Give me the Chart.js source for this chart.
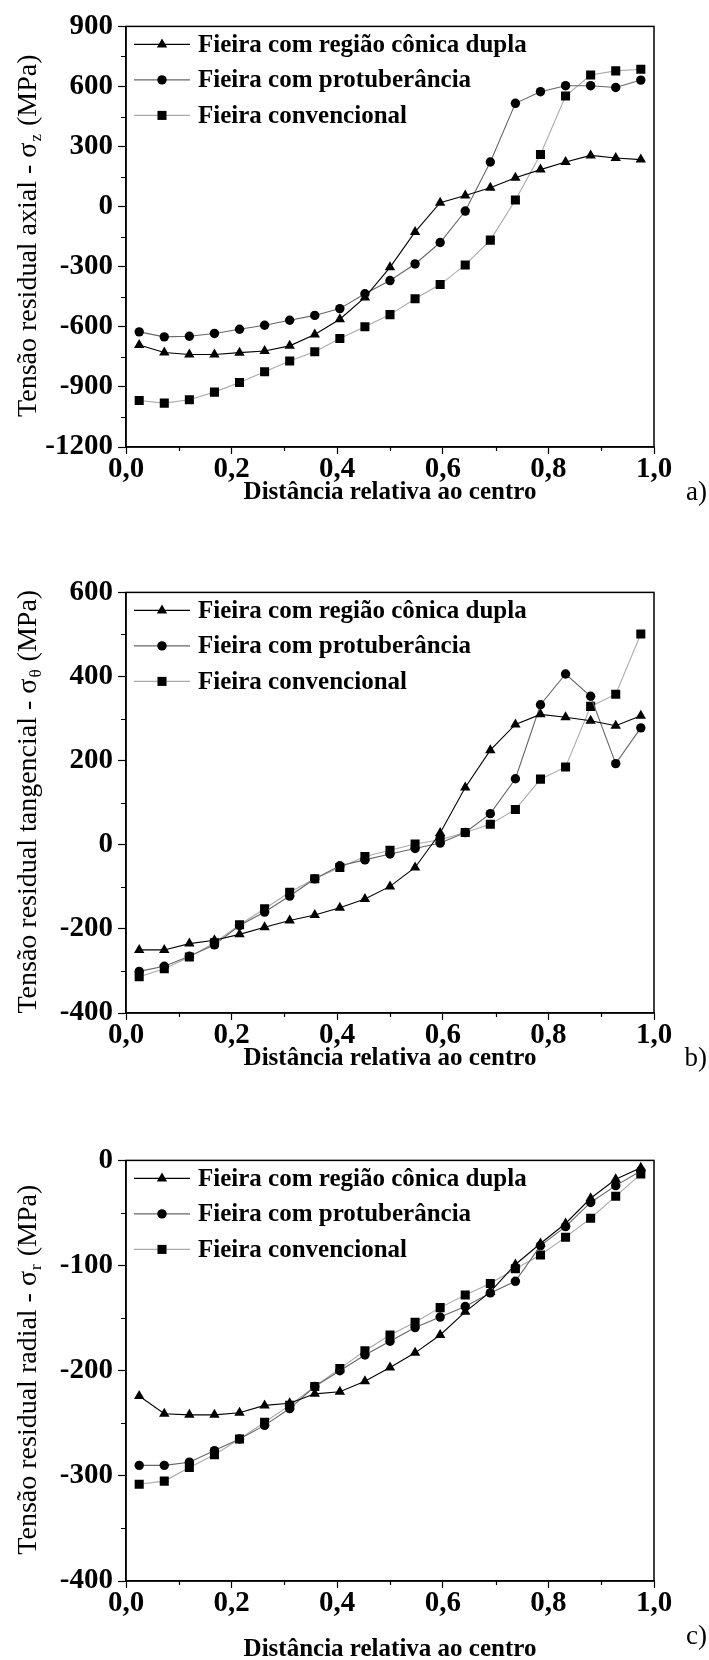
<!DOCTYPE html>
<html lang="pt">
<head>
<meta charset="utf-8" />
<title>Tensões residuais</title>
<script src="https://cdn.jsdelivr.net/npm/chart.js@4"></script>
<style>
  body { margin: 0; background: #fff; }
  .painel { position: absolute; left: 0; width: 709px; }
</style>
</head>
<body>
<div class="painel" style="top:4px"><canvas id="graficoA" width="709" height="536"></canvas></div>
<div class="painel" style="top:570px"><canvas id="graficoB" width="709" height="537"></canvas></div>
<div class="painel" style="top:1138px"><canvas id="graficoC" width="709" height="522"></canvas></div>

<script>
// distância relativa ao centro (eixo x, comum aos três gráficos)
const distancia = [0.025, 0.0725, 0.12, 0.1675, 0.215, 0.2625, 0.31, 0.3575, 0.405, 0.4525, 0.5,
  0.5475, 0.595, 0.6425, 0.69, 0.7375, 0.785, 0.8325, 0.88, 0.9275, 0.975];

const series = ['Fieira com região cônica dupla', 'Fieira com protuberância', 'Fieira convencional'];

// a) tensão axial (MPa)
const axialConica = [-691, -728, -738, -738, -729, -721, -695, -638, -562, -453, -303,
  -126, 20, 56, 94, 144, 185, 223, 256, 243, 235];
const axialProtuberancia = [-625, -650, -647, -633, -612, -592, -567, -543, -509, -435, -369,
  -286, -179, -22, 223, 516, 574, 604, 604, 595, 632];
const axialConvencional = [-968, -981, -964, -926, -878, -824, -771, -724, -658, -600, -539,
  -460, -389, -291, -167, 33, 260, 552, 657, 678, 686];

// b) tensão tangencial (MPa)
const tangencialConica = [-250, -250, -235, -227, -213, -196, -180, -167, -150, -129, -99,
  -54, 28, 136, 225, 286, 310, 303, 295, 283, 307];
const tangencialProtuberancia = [-301, -289, -265, -238, -192, -160, -122, -81, -50, -36, -22,
  -9, 4, 29, 74, 157, 333, 406, 353, 193, 278];
const tangencialConvencional = [-314, -295, -267, -233, -190, -152, -113, -81, -54, -28, -13,
  2, 12, 29, 49, 84, 156, 185, 329, 358, 501];

// c) tensão radial (MPa)
const radialConica = [-224, -241, -242, -242, -240, -233, -231, -222, -220, -210, -197,
  -183, -166, -144, -125, -99, -79, -60, -36, -18, -7];
const radialProtuberancia = [-290, -290, -287, -276, -265, -252, -236, -215, -200, -185, -172,
  -159, -149, -139, -126, -115, -81, -63, -40, -24, -10];
const radialConvencional = [-308, -305, -292, -280, -265, -249, -233, -215, -198, -181, -166,
  -154, -140, -128, -117, -103, -90, -73, -55, -34, -13];

// marcas dos eixos
const ticksDistancia = [0, 0.2, 0.4, 0.6, 0.8, 1.0];
const ticksAxial = [-1200, -900, -600, -300, 0, 300, 600, 900];
const ticksTangencial = [-400, -200, 0, 200, 400, 600];
const ticksRadial = [-400, -300, -200, -100, 0];

const SERIF = '"Liberation Serif", "Times New Roman", serif';

// moldura, marcas menores, legenda e títulos dos eixos
const moldura = {
  id: 'moldura',
  afterDraw(chart, args, opts) {
    const ctx = chart.ctx;
    const a = chart.chartArea;
    const sx = chart.scales.x, sy = chart.scales.y;
    ctx.save();
    ctx.strokeStyle = '#000';
    ctx.lineWidth = 1.5;
    ctx.strokeRect(a.left, a.top, a.right - a.left, a.bottom - a.top);

    // marcas menores
    ctx.lineWidth = 1.2;
    ctx.beginPath();
    const ty = sy.ticks.map(t => t.value);
    for (let i = 0; i < ty.length - 1; i++) {
      const py = Math.round(sy.getPixelForValue((ty[i] + ty[i + 1]) / 2)) + 0.5;
      ctx.moveTo(a.left - 5, py);
      ctx.lineTo(a.left, py);
    }
    const tx = sx.ticks.map(t => t.value);
    for (let i = 0; i < tx.length - 1; i++) {
      const px = Math.round(sx.getPixelForValue((tx[i] + tx[i + 1]) / 2)) + 0.5;
      ctx.moveTo(px, a.bottom);
      ctx.lineTo(px, a.bottom + 4);
    }
    ctx.stroke();

    // legenda
    ctx.font = 'bold 25px ' + SERIF;
    ctx.textBaseline = 'middle';
    ctx.textAlign = 'left';
    chart.data.datasets.forEach((ds, i) => {
      const y = a.top + 18 + i * 35.5;
      ctx.strokeStyle = ds.borderColor;
      ctx.lineWidth = 1.2;
      ctx.beginPath();
      ctx.moveTo(a.left + 8, y);
      ctx.lineTo(a.left + 64, y);
      ctx.stroke();
      ctx.fillStyle = '#000';
      ctx.strokeStyle = '#000';
      Chart.helpers.drawPoint(ctx, {pointStyle: ds.pointStyle, radius: ds.pointRadius, rotation: 0, borderWidth: 0}, a.left + 36, y);
      ctx.fillStyle = '#000';
      ctx.fillText(ds.label, a.left + 72, y + 1);
    });

    // título do eixo y, com índice
    ctx.save();
    ctx.translate(opts.tituloYx, (a.top + a.bottom) / 2 + opts.tituloYdy);
    ctx.rotate(-Math.PI / 2);
    const f1 = '28px ' + SERIF, f2 = '17px ' + SERIF;
    ctx.font = f1;
    const w1 = ctx.measureText(opts.tituloY[0]).width;
    const w3 = ctx.measureText(opts.tituloY[2]).width;
    ctx.font = f2;
    const w2 = ctx.measureText(opts.tituloY[1]).width;
    let x0 = -(w1 + w2 + w3) / 2;
    ctx.textAlign = 'left';
    ctx.textBaseline = 'alphabetic';
    ctx.font = f1;
    ctx.fillText(opts.tituloY[0], x0, 9);
    ctx.font = f2;
    ctx.fillText(opts.tituloY[1], x0 + w1 + 1, 14);
    ctx.font = f1;
    ctx.fillText(opts.tituloY[2], x0 + w1 + w2 + 2, 9);
    ctx.restore();

    // título do eixo x e letra do painel
    ctx.fillStyle = '#000';
    ctx.textBaseline = 'middle';
    ctx.textAlign = 'center';
    ctx.font = 'bold 25px ' + SERIF;
    ctx.fillText('Distância relativa ao centro', (a.left + a.right) / 2, opts.tituloXy);
    ctx.textAlign = 'right';
    ctx.font = '27px ' + SERIF;
    ctx.fillText(opts.letra, 707, opts.letraY);
    ctx.restore();
  }
};

function conjunto(label, valores, estilo, raio, cor) {
  return {
    label: label,
    data: distancia.map((x, i) => ({x: x, y: valores[i]})),
    borderColor: cor,
    borderWidth: 1.1,
    backgroundColor: '#000',
    pointBackgroundColor: '#000',
    pointBorderWidth: 0,
    pointStyle: estilo,
    pointRadius: raio,
    pointHoverRadius: raio,
    tension: 0
  };
}

function criarGrafico(id, conica, protuberancia, convencional, ticksY, tituloY, letra, alturaX, tituloXy, letraY) {
  return new Chart(document.getElementById(id), {
    type: 'line',
    data: {
      datasets: [
        conjunto(series[0], conica, 'triangle', 6, '#000'),
        conjunto(series[1], protuberancia, 'circle', 4.7, '#666'),
        conjunto(series[2], convencional, 'rect', 6.4, '#aaa')
      ]
    },
    options: {
      responsive: false,
      animation: false,
      events: [],
      layout: {padding: {top: 20, right: 55, left: 0, bottom: 0}},
      plugins: {
        legend: {display: false},
        tooltip: {enabled: false},
        moldura: {tituloY: tituloY, tituloYx: 27, tituloYdy: 0, letra: letra, tituloXy: tituloXy, letraY: letraY}
      },
      scales: {
        x: {
          type: 'linear',
          min: 0,
          max: 1,
          afterBuildTicks: s => { s.ticks = ticksDistancia.map(v => ({value: v})); },
          afterFit: s => { s.height = alturaX; },
          grid: {drawOnChartArea: false, color: '#000', tickLength: 7, tickWidth: 1.2},
          border: {display: true, color: '#000', width: 1.5},
          ticks: {
            color: '#000',
            padding: 1,
            maxRotation: 0,
            autoSkip: false,
            font: {family: SERIF, size: 29, weight: 'bold', lineHeight: 1},
            callback: v => v.toFixed(1).replace('.', ',')
          }
        },
        y: {
          type: 'linear',
          min: ticksY[0],
          max: ticksY[ticksY.length - 1],
          afterBuildTicks: s => { s.ticks = ticksY.map(v => ({value: v})); },
          afterFit: s => { s.width = 126; },
          grid: {drawOnChartArea: false, color: '#000', tickLength: 8, tickWidth: 1.2},
          border: {display: true, color: '#000', width: 1.5},
          ticks: {
            color: '#000',
            padding: 5,
            autoSkip: false,
            font: {family: SERIF, size: 29, weight: 'bold'},
            callback: v => String(v)
          }
        }
      }
    },
    plugins: [moldura]
  });
}

criarGrafico('graficoA', axialConica, axialProtuberancia, axialConvencional, ticksAxial,
  ['Tensão residual axial - σ', 'z', ' (MPa)'], 'a)', 93, 489, 489);
criarGrafico('graficoB', tangencialConica, tangencialProtuberancia, tangencialConvencional, ticksTangencial,
  ['Tensão residual tangencial - σ', 'θ', ' (MPa)'], 'b)', 94, 489, 489);
criarGrafico('graficoC', radialConica, radialProtuberancia, radialConvencional, ticksRadial,
  ['Tensão residual radial - σ', 'r', ' (MPa)'], 'c)', 79, 512, 499);
</script>
</body>
</html>
